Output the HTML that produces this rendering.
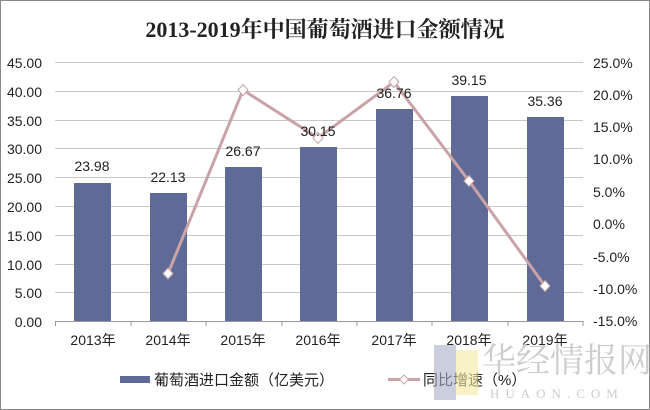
<!DOCTYPE html>
<html><head><meta charset="utf-8"><style>
body{margin:0;background:#fff}
svg{display:block;font-family:"Liberation Sans","Noto Sans CJK SC",sans-serif}
</style></head><body>
<svg width="650" height="410" viewBox="0 0 650 410">
<rect x="0.5" y="0.5" width="649" height="409" fill="#fff" stroke="#888"/>
<text x="325" y="37" text-anchor="middle" font-size="22" font-weight="bold" font-family="Liberation Serif,'Noto Serif CJK SC',serif" fill="#222">2013-2019年中国葡萄酒进口金额情况</text>
<g stroke="#c8c8c8" stroke-width="1">
<line x1="55" x2="583" y1="62.5" y2="62.5"/><line x1="55" x2="583" y1="91.5" y2="91.5"/>
<line x1="55" x2="583" y1="120.5" y2="120.5"/><line x1="55" x2="583" y1="148.5" y2="148.5"/>
<line x1="55" x2="583" y1="177.5" y2="177.5"/><line x1="55" x2="583" y1="206.5" y2="206.5"/>
<line x1="55" x2="583" y1="235.5" y2="235.5"/><line x1="55" x2="583" y1="264.5" y2="264.5"/>
<line x1="55" x2="583" y1="292.5" y2="292.5"/>
</g>
<line x1="55" x2="583" y1="321.5" y2="321.5" stroke="#999"/>
<g stroke="#999"><line x1="55.5" x2="55.5" y1="321" y2="326"/><line x1="131" x2="131" y1="321" y2="326"/><line x1="206" x2="206" y1="321" y2="326"/><line x1="282" x2="282" y1="321" y2="326"/><line x1="357" x2="357" y1="321" y2="326"/><line x1="432" x2="432" y1="321" y2="326"/><line x1="508" x2="508" y1="321" y2="326"/><line x1="583" x2="583" y1="321" y2="326"/></g>
<g fill="#5f6a96">
<rect x="74" y="183" width="37" height="138"/>
<rect x="150" y="193" width="37" height="128"/>
<rect x="225" y="167" width="37" height="154"/>
<rect x="300" y="147" width="37" height="174"/>
<rect x="376" y="109" width="37" height="212"/>
<rect x="451" y="96" width="37" height="225"/>
<rect x="527" y="117" width="37" height="204"/>
</g>
<polyline points="168,273.5 243,90 318,138 394,82 469,181 545,286" fill="none" stroke="#c9a3a8" stroke-width="3"/>
<g fill="#fff" stroke="#c9a3a8" stroke-width="1">
<path d="M168 268l5 5.5-5 5.5-5-5.5z"/><path d="M243 84.5l5 5.5-5 5.5-5-5.5z"/><path d="M318 132.5l5 5.5-5 5.5-5-5.5z"/>
<path d="M394 76.5l5 5.5-5 5.5-5-5.5z"/><path d="M469 175.5l5 5.5-5 5.5-5-5.5z"/><path d="M545 280.5l5 5.5-5 5.5-5-5.5z"/>
</g>
<g font-size="14" fill="#222" text-anchor="middle">
<text x="92" y="171">23.98</text><text x="168" y="182">22.13</text><text x="243" y="156">26.67</text>
<text x="318" y="136">30.15</text><text x="394" y="98">36.76</text><text x="469" y="85">39.15</text><text x="545" y="106">35.36</text>
</g>
<g font-size="14" fill="#222" text-anchor="end">
<text x="42" y="68">45.00</text><text x="42" y="97">40.00</text><text x="42" y="126">35.00</text><text x="42" y="154">30.00</text>
<text x="42" y="183">25.00</text><text x="42" y="212">20.00</text><text x="42" y="241">15.00</text><text x="42" y="270">10.00</text>
<text x="42" y="298">5.00</text><text x="42" y="327">0.00</text>
</g>
<g font-size="14" fill="#222" text-anchor="start">
<text x="593" y="68">25.0%</text><text x="593" y="100">20.0%</text><text x="593" y="132">15.0%</text><text x="593" y="164">10.0%</text>
<text x="593" y="197">5.0%</text><text x="593" y="229">0.0%</text><text x="593" y="262">-5.0%</text><text x="593" y="294">-10.0%</text><text x="593" y="326">-15.0%</text>
</g>
<g font-size="14" fill="#222" text-anchor="middle">
<text x="93" y="345">2013年</text><text x="168" y="345">2014年</text><text x="243" y="345">2015年</text><text x="318" y="345">2016年</text>
<text x="394" y="345">2017年</text><text x="469" y="345">2018年</text><text x="545" y="345">2019年</text>
</g>
<rect x="120" y="376" width="30" height="7" fill="#5f6a96"/>
<text x="154" y="385" font-size="15" fill="#222">葡萄酒进口金额（亿美元）</text>
<line x1="388" x2="420" y1="379.5" y2="379.5" stroke="#c9a3a8" stroke-width="3"/>
<path d="M404 375l4.5 4.5-4.5 4.5-4.5-4.5z" fill="#fff" stroke="#c9a3a8"/>
<text x="423" y="385" font-size="15" fill="#222">同比增速（%）</text>
<rect x="434" y="345" width="22" height="55" fill="#a9adc6" opacity="0.6"/>
<rect x="456" y="350" width="22" height="45" fill="#f4eaa0" opacity="0.6"/>
<text x="482" y="372" font-size="34" fill="#ccc" font-family="'Noto Serif CJK SC',serif">华经情报网</text>
<text x="490" y="398" font-size="13" fill="#ccc" letter-spacing="6" font-family="Liberation Serif,serif">HUAON.COM</text>
</svg>
</body></html>
